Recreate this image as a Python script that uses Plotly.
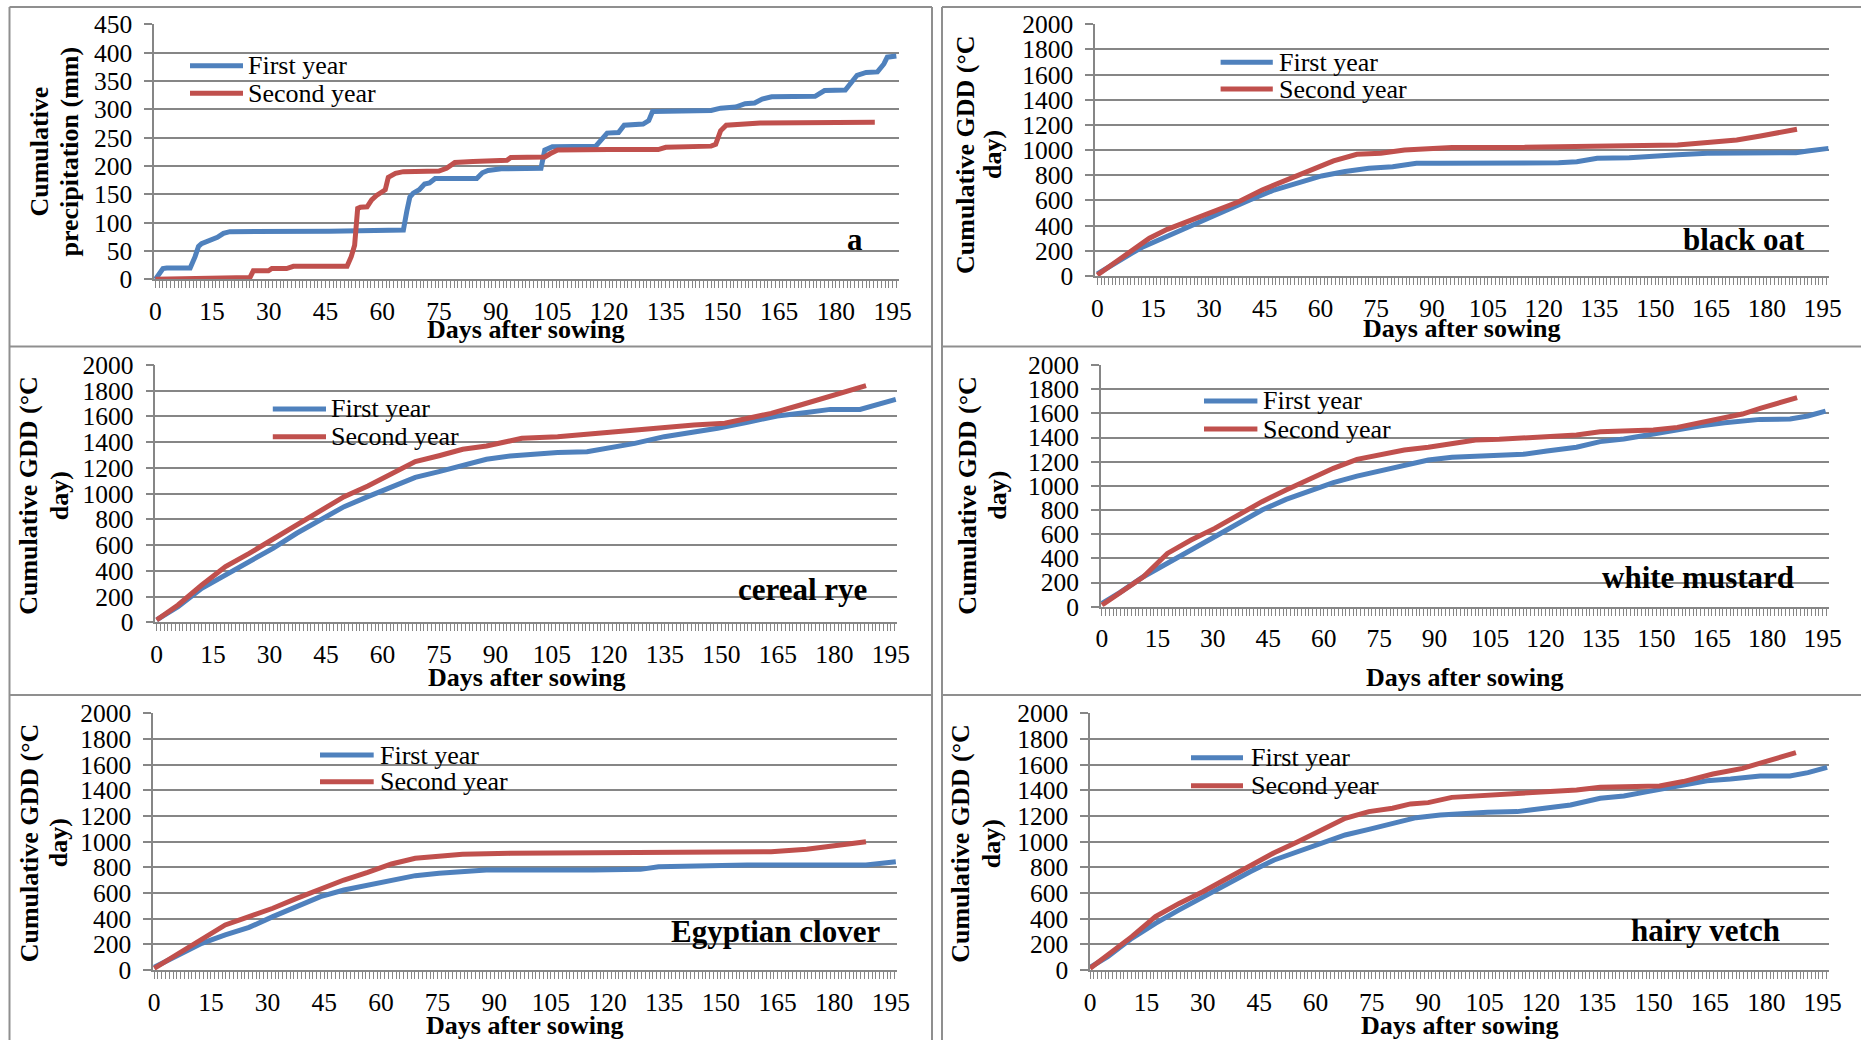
import plotly.graph_objects as go

W, H = 1861, 1040
FONT = "Liberation Serif, Times New Roman, serif"

# ---------------- data ----------------
x_tick_days = [0, 15, 30, 45, 60, 75, 90, 105, 120, 135, 150, 165, 180, 195]
precip_ticks = [0, 50, 100, 150, 200, 250, 300, 350, 400, 450]
gdd_ticks = [0, 200, 400, 600, 800, 1000, 1200, 1400, 1600, 1800, 2000]
series_names = ["First year", "Second year"]
panel_labels = ["a", "black oat", "cereal rye", "white mustard", "Egyptian clover", "hairy vetch"]
precip_title = ["Cumulative", "precipitation (mm)"]
gdd_title = ["Cumulative GDD (°C", "day)"]
x_title = "Days after sowing"

# (a) cumulative precipitation (mm)
precip_first_days = [0, 2, 3, 9.2, 10.5, 11.4, 12.2, 13.6, 14.9, 16.4, 18, 19.7, 46, 65.6, 66.5, 67.3,
                     68.2, 69.8, 71.2, 72.5, 74, 85, 86.5, 88, 91.5, 102, 103, 105, 116.5, 118,
                     119.5, 122.5, 124, 129, 130.5, 131.5, 139, 147, 149.5, 153.5, 156, 158.5, 160.5,
                     163, 174.5, 177, 182.5, 184, 185.6, 188, 191, 192.7, 193.6, 196]
precip_first_mm = [0, 19, 20, 20, 40, 58, 63, 67, 72, 74, 81, 84, 85, 87, 120, 145, 152, 158, 168, 170,
                   178, 178, 188, 192, 195, 196, 228, 234, 235, 248, 258, 259, 272, 274, 280, 296, 297,
                   298, 302, 304, 310, 311, 318, 322, 323, 333, 334, 345, 360, 365, 366, 380, 392, 394]
precip_second_days = [0, 11, 20, 25, 25.9, 29.9, 30.8, 34.7, 36.5, 50.7, 51.8, 52.7, 53.5, 54.2, 56,
                      57.2, 58.5, 60, 60.8, 61.6, 63.5, 65.6, 75, 77, 79.2, 84, 93, 94, 103, 104.5,
                      106.4, 120, 133, 135, 147, 148.2, 149.5, 151, 157.4, 160, 190.3]
precip_second_mm = [0, 2, 3, 3, 15, 15, 19, 19, 23, 23, 40, 60, 125, 127, 128, 140, 148, 153, 158, 180,
                    187, 190, 191, 196, 206, 208, 210, 215, 216, 222, 228, 229, 229, 233, 235, 238,
                    262, 272, 274, 276, 277]

# (b) black oat cumulative GDD
oat_first_days = [0, 4.5, 9.2, 12.4, 16.4, 22, 28.4, 34.8, 41, 47.5, 53.9, 60.3, 66.6, 73, 79.4, 85.8,
                  92, 114.5, 124, 128.9, 134.4, 143, 149.5, 156, 164, 178, 187.8, 191, 196.6]
oat_first_gdd = [16, 100, 180, 233, 286, 352, 445, 525, 604, 683, 736, 795, 830, 856, 869, 895, 895,
                 895, 900, 908, 935, 940, 954, 964, 975, 980, 980, 993, 1014]
oat_second_days = [0, 4.5, 9.2, 14, 18.8, 25.2, 31.6, 38, 44.3, 50.7, 57, 63.5, 69.8, 76.2, 82.6, 89,
                   95.3, 114.5, 130.4, 146.4, 156, 164, 171.9, 178.3, 183, 188.1]
oat_second_gdd = [8, 100, 193, 300, 371, 445, 511, 590, 683, 763, 842, 914, 967, 975, 1001, 1007, 1022,
                  1022, 1028, 1033, 1041, 1060, 1081, 1113, 1134, 1166]

# (c) cereal rye cumulative GDD
rye_first_days = [0, 5.7, 12, 18.3, 24.6, 30.9, 37.2, 43.5, 49.8, 56.1, 62.4, 68.7, 75, 81.3, 87.6, 93.9,
                  100.2, 106.5, 114.3, 120.6, 127, 134.8, 142.7, 149, 156.9, 164.8, 172.6, 178.9,
                  186.8, 191.5, 196.3]
rye_first_gdd = [18, 122, 264, 368, 464, 575, 692, 795, 899, 977, 1054, 1127, 1171, 1215, 1267, 1293,
                 1308, 1319, 1326, 1360, 1391, 1443, 1474, 1508, 1554, 1604, 1630, 1655, 1655, 1689, 1733]
rye_second_days = [0, 5.7, 12, 18.3, 24.6, 30.9, 37.2, 43.5, 49.8, 56.1, 62.4, 68.7, 75, 81.3, 87.6,
                   93.9, 97, 106.5, 115.9, 122.2, 130, 136.4, 142.7, 150.9, 156.9, 163.2, 171, 178.9,
                   183.7, 188.4]
rye_second_gdd = [18, 135, 290, 433, 536, 645, 756, 873, 977, 1060, 1158, 1249, 1295, 1345, 1370, 1404,
                  1430, 1443, 1469, 1482, 1500, 1526, 1534, 1547, 1580, 1624, 1689, 1759, 1806, 1839]

# (d) white mustard cumulative GDD
mustard_first_days = [0, 4.8, 11.2, 17.7, 24.1, 30.5, 36.9, 43.3, 49.8, 56.2, 62.6, 69, 75.4, 81.8,
                      88.3, 94.7, 101.1, 107.5, 114, 120.4, 128.4, 134.8, 141.2, 147.6, 154.1, 162.1,
                      168.5, 178.1, 186.2, 191, 195.8]
mustard_first_gdd = [28, 116, 248, 364, 469, 579, 695, 800, 888, 960, 1026, 1081, 1126, 1164, 1214, 1236,
                     1247, 1252, 1261, 1288, 1319, 1366, 1388, 1421, 1457, 1498, 1523, 1550, 1553, 1578,
                     1619]
mustard_second_days = [0, 4.8, 11.2, 17.7, 24.1, 30.5, 36.9, 43.3, 49.8, 56.2, 62.6, 69, 75.4, 81.8,
                       88.3, 94.7, 101.1, 107.5, 114, 120.4, 128.4, 134.8, 141.2, 149.2, 155.7, 162.1,
                       168.5, 173.3, 178.1, 182.9, 188.1]
mustard_second_gdd = [14, 110, 248, 441, 552, 648, 759, 869, 966, 1054, 1145, 1219, 1255, 1297, 1319,
                      1346, 1379, 1385, 1396, 1412, 1421, 1448, 1457, 1462, 1484, 1523, 1567, 1594, 1641,
                      1683, 1730]

# (e) Egyptian clover cumulative GDD
clover_first_days = [0, 6.3, 12.6, 18.8, 25.1, 31.4, 37.7, 44, 50.2, 56.5, 62.8, 69.1, 75.4, 81.6, 87.9,
                     116.2, 128.7, 133.5, 147.6, 157, 188.4, 193.1, 196.3]
clover_first_gdd = [21, 117, 208, 273, 332, 416, 494, 571, 623, 662, 701, 735, 753, 766, 779, 779, 784,
                    805, 810, 818, 818, 831, 844]
clover_second_days = [0, 6.3, 12.6, 18.8, 25.1, 31.4, 37.7, 44, 50.2, 56.5, 62.8, 69.1, 75.4, 81.6,
                      94.2, 155.4, 163.3, 172.7, 179, 183.7, 188.4]
clover_second_gdd = [13, 130, 247, 351, 416, 481, 558, 629, 701, 761, 826, 870, 883, 901, 909, 914, 922,
                     940, 966, 982, 1000]

# (f) hairy vetch cumulative GDD
vetch_first_days = [0, 4.7, 11.1, 17.4, 23.7, 30, 36.3, 42.6, 49, 55.3, 61.6, 67.9, 74.2, 80.5, 86.8,
                    93.2, 99.5, 105.8, 113.7, 121.6, 127.9, 135.8, 142.1, 148.4, 156.3, 164.2, 170.5,
                    178.4, 186.3, 191.1, 196.2]
vetch_first_gdd = [21, 104, 247, 364, 468, 571, 668, 766, 857, 922, 987, 1052, 1096, 1138, 1187, 1208,
                   1221, 1229, 1234, 1268, 1286, 1338, 1356, 1390, 1429, 1475, 1488, 1512, 1512, 1538, 1579]
vetch_second_days = [0, 4.7, 11.1, 17.4, 23.7, 30, 36.3, 42.6, 49, 55.3, 61.6, 67.9, 74.2, 80.5, 85.3,
                     90, 96.3, 102.6, 109, 115.3, 124.7, 129.5, 135.8, 146.9, 151.6, 157.9, 165.8, 173.7,
                     178.4, 183.1, 187.9]
vetch_second_gdd = [13, 117, 260, 416, 519, 610, 714, 818, 914, 1000, 1091, 1182, 1234, 1260, 1294, 1304,
                    1345, 1356, 1361, 1377, 1390, 1403, 1423, 1429, 1434, 1468, 1527, 1571, 1610, 1649, 1694]

panel_series = [
    ((precip_first_days, precip_first_mm), (precip_second_days, precip_second_mm)),
    ((oat_first_days, oat_first_gdd), (oat_second_days, oat_second_gdd)),
    ((rye_first_days, rye_first_gdd), (rye_second_days, rye_second_gdd)),
    ((mustard_first_days, mustard_first_gdd), (mustard_second_days, mustard_second_gdd)),
    ((clover_first_days, clover_first_gdd), (clover_second_days, clover_second_gdd)),
    ((vetch_first_days, vetch_first_gdd), (vetch_second_days, vetch_second_gdd)),
]

# ---------------- styling / layout geometry (pixels) ----------------
COLORS = ["#4F81BD", "#C0504D"]
GRID = "#868686"
FRAME = "#8f8f8f"

geom = [
    dict(L=154, R=899, T=24.3, B=279.3, xr=[-0.37, 196.7]),
    dict(L=1095, R=1828.6, T=24.3, B=276, xr=[-0.62, 196.6]),
    dict(L=155.4, R=896.8, T=365, B=622.3, xr=[-0.32, 196.57]),
    dict(L=1100.8, R=1828.6, T=365, B=606.7, xr=[-0.32, 196.62]),
    dict(L=153, R=896.8, T=713.3, B=970, xr=[-0.32, 196.56]),
    dict(L=1090, R=1828.6, T=713.3, B=970, xr=[-0.03, 196.6]),
]
legend_geom = [
    (190, 243, 246, 65.7, 93.3),
    (1220.6, 1272.8, 1277, 62.3, 89),
    (272.8, 326, 329, 409, 436.7),
    (1204, 1257.4, 1261, 401, 429),
    (320, 373.7, 377.8, 755, 781.7),
    (1191, 1243, 1248.5, 757.7, 785.7),
]
label_geom = [
    (829, 896, 218, 278, 855, 239.5),
    (1663.7, 1828, 221, 275, 1743.8, 239.5),
    (716.5, 895.6, 566, 621, 802, 589.5),
    (1579.5, 1828, 554, 605, 1698, 577.8),
    (648, 896.8, 914, 969, 775.8, 931.2),
    (1610, 1828, 914, 969, 1705, 930.2),
]
xtitle_geom = [(525.5, 329.5), (1461.7, 328.7), (526, 677.5), (1464.4, 677), (524.3, 1025.8), (1459, 1025.8)]
ytitle_geom = [
    ((38.6, 152), (68.5, 152)),
    ((965, 155), (992, 155)),
    ((29, 495.8), (59.5, 495.8)),
    ((968, 495.8), (998, 495.8)),
    ((29, 843.3), (58, 843.3)),
    ((960.5, 843.3), (991, 843.3)),
]


def px(xp):
    return xp / W


def py(yp):
    return 1 - yp / H


fig = go.Figure()
layout = dict(
    width=W, height=H, autosize=False,
    margin=dict(l=0, r=0, t=0, b=0, pad=0, autoexpand=False),
    paper_bgcolor="white", plot_bgcolor="white",
    showlegend=False,
    font=dict(family=FONT, color="black"),
)
shapes = []
annotations = []

for i, g in enumerate(geom):
    sfx = "" if i == 0 else str(i + 1)
    yt = precip_ticks if i == 0 else gdd_ticks
    layout["xaxis" + sfx] = dict(
        domain=[px(g["L"]), px(g["R"])], range=g["xr"], anchor="y" + sfx,
        showgrid=False, zeroline=False, showline=True, linecolor=GRID, linewidth=2,
        tickmode="array", tickvals=x_tick_days, ticktext=[str(v) for v in x_tick_days],
        ticks="outside", ticklen=7, tickwidth=1, tickcolor=GRID,
        minor=dict(dtick=1, tick0=0, ticks="outside", ticklen=7, tickwidth=1, tickcolor=GRID, showgrid=False),
        tickfont=dict(family=FONT, size=25.5, color="black"),
        ticklabelstandoff=1, fixedrange=True, automargin=False,
    )
    layout["yaxis" + sfx] = dict(
        domain=[py(g["B"]), py(g["T"])], range=[0, yt[-1]], anchor="x" + sfx,
        showgrid=True, gridcolor=GRID, gridwidth=1.8, zeroline=False,
        showline=True, linecolor=GRID, linewidth=1.5,
        tickmode="array", tickvals=yt, ticktext=[str(v) for v in yt],
        ticks="outside", ticklen=8, tickwidth=1.5, tickcolor=GRID,
        tickfont=dict(family=FONT, size=25.5, color="black"),
        ticklabelstandoff=7, fixedrange=True, automargin=False,
    )
    for k, (dx, vy) in enumerate(panel_series[i]):
        fig.add_trace(go.Scatter(
            x=dx, y=vy, mode="lines", name=series_names[k],
            line=dict(color=COLORS[k], width=5),
            xaxis="x" + sfx, yaxis="y" + sfx, showlegend=False,
        ))

    # legend (drawn manually to match the Excel layout)
    lx0, lx1, tx, r1, r2 = legend_geom[i]
    for k, ry in enumerate((r1, r2)):
        shapes.append(dict(type="line", xref="paper", yref="paper",
                           x0=px(lx0), x1=px(lx1), y0=py(ry), y1=py(ry),
                           line=dict(color=COLORS[k], width=5)))
        annotations.append(dict(xref="paper", yref="paper", x=px(tx), y=py(ry),
                                xanchor="left", yanchor="middle", showarrow=False,
                                text=series_names[k],
                                font=dict(family=FONT, size=26, color="black")))

    # panel label with white box
    bx0, bx1, by0, by1, cx, cy = label_geom[i]
    shapes.append(dict(type="rect", xref="paper", yref="paper", layer="between",
                       x0=px(bx0), x1=px(bx1), y0=py(by1), y1=py(by0),
                       fillcolor="white", line=dict(width=0)))
    annotations.append(dict(xref="paper", yref="paper", x=px(cx), y=py(cy),
                            xanchor="center", yanchor="middle", showarrow=False,
                            text="<b>" + panel_labels[i] + "</b>",
                            font=dict(family=FONT, size=31, color="black")))

    # axis titles
    xtx, xty = xtitle_geom[i]
    annotations.append(dict(xref="paper", yref="paper", x=px(xtx), y=py(xty),
                            xanchor="center", yanchor="middle", showarrow=False,
                            text="<b>" + x_title + "</b>",
                            font=dict(family=FONT, size=26, color="black")))
    ylines = precip_title if i == 0 else gdd_title
    for (ax_, ay_), t in zip(ytitle_geom[i], ylines):
        annotations.append(dict(xref="paper", yref="paper", x=px(ax_), y=py(ay_),
                                xanchor="center", yanchor="middle", showarrow=False,
                                textangle=-90, text="<b>" + t + "</b>",
                                font=dict(family=FONT, size=26, color="black")))

# panel frames
frame_lines = [
    (9.5, 7, 932, 7), (942, 7, 1861, 7),
    (9.5, 346.5, 932, 346.5), (942, 346.5, 1861, 346.5),
    (9.5, 695, 932, 695), (942, 695, 1861, 695),
    (9.5, 7, 9.5, 1040), (932, 7, 932, 1040), (942, 7, 942, 1040),
]
for x0, y0, x1, y1 in frame_lines:
    shapes.append(dict(type="line", xref="paper", yref="paper",
                       x0=px(x0), y0=py(y0), x1=px(x1), y1=py(y1),
                       line=dict(color=FRAME, width=2)))

layout["shapes"] = shapes
layout["annotations"] = annotations
fig.update_layout(**layout)
fig.write_html("out.html")
